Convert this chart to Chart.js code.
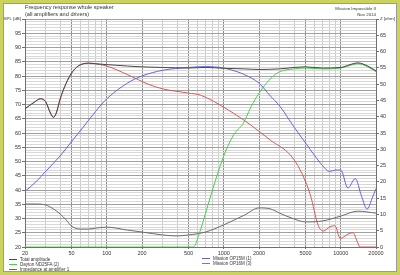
<!DOCTYPE html>
<html>
<head>
<meta charset="utf-8">
<script src="https://cdn.jsdelivr.net/npm/chart.js@4.4.0/dist/chart.umd.min.js"></script>
<style>
body{margin:0;background:#fff;font-family:"Liberation Sans",Arial,sans-serif;color:#333;}
#wrap{position:relative;width:400px;height:275px;overflow:hidden;}
canvas{position:absolute;left:0;top:0;}
#frame{position:absolute;left:0;top:0;width:400px;height:275px;box-sizing:border-box;border:3px solid #cbd45a;pointer-events:none;}
#frame div{position:absolute;left:0;top:0;right:0;bottom:0;border:1px solid #9a9a9a;}
.t{position:absolute;white-space:nowrap;font-size:5.6px;line-height:7px;}
.s{position:absolute;white-space:nowrap;font-size:4.4px;line-height:5.5px;text-align:right;}
.lg{position:absolute;white-space:nowrap;font-size:4.5px;line-height:5px;}
.lg span{display:inline-block;width:8px;height:1px;vertical-align:middle;margin-right:3px;}
</style>
</head>
<body>
<div id="wrap">
<canvas id="myChart" width="400" height="275"></canvas>
<div class="t" style="left:25px;top:4px">Frequency response whole speaker</div>
<div class="t" style="left:25px;top:11px">(all amplifiers and drivers)</div>
<div class="s" style="right:24px;top:6px">Mission Impossible II<br>Nov 2014</div>
<div id="legend"></div>
<div id="frame"><div></div></div>
</div>
<script>
// series names and colours
var names = ['Total amplitude', 'Dayton ND25FA (2)', 'Impedance at amplifier 1', 'Mission OP15M (1)', 'Mission OP16M (3)'];
var colors = ['#474747', '#4fcc4f', '#6a6a6a', '#6464dc', '#d25a5a'];

var xTicks = [20,30,40,50,60,70,80,90,100,200,300,400,500,600,700,800,900,1000,2000,3000,4000,5000,6000,7000,8000,9000,10000,20000];
var xLabels = [20,50,100,200,500,1000,2000,5000,10000,20000];

var totalFreq = [20,24,27,30,33,35,37,40,45,50,55,60,70,80,100,150,200,300,500,700,1000,1500,2000,3000,4000,5000,7000,10000,12000,14000,17000,20000];
var totalSpl = [68.5,70.8,72,71,67,65.5,67,72,77.5,81,83,84,84.5,84.3,84,83.5,83.2,83,82.8,83,82.7,82.5,82.3,82.5,83,83.2,82.8,83,84,84.6,83.5,81.8];

var tweetFreq = [20,550,620,700,800,1000,1200,1300,1450,1700,2000,2500,3000,4000,5000,7000,10000,12000,14000,17000,20000];
var tweetSpl = [20,20,25,32,40,52,59,61,63,69,74,79,81.5,82.5,82.8,82.5,82.8,83.7,84.3,83.2,81.5];

var impFreq = [20,25,30,35,40,45,50,60,70,80,100,150,200,300,400,500,700,1000,1500,2000,2500,3000,4000,5000,7000,10000,14000,20000];
var impOhm = [13.2,13.2,12.9,11.7,10.1,8.3,6.4,5.5,5.5,5.8,6.1,5.2,4.6,3.7,3.4,3.7,4.6,6.8,9.8,12,11.7,10.4,8.6,7.7,8,9.5,11,10.4];

var woofFreq = [20,25,30,40,50,60,70,80,100,150,200,300,500,700,1000,1300,1500,2000,2500,3000,4000,5000,6000,7000,8000,9000,10000,11500,13300,15000,16800,18500,20000];
var woofSpl = [39.5,43,46.5,52,57,61,64.5,67.5,72,77.5,80,82,83,83.3,82.8,81.5,80.5,77.5,73,69.5,62,56.5,52,48.5,46.5,47,47,40.7,44,38,33.3,37,40.5];

var midFreq = [20,24,27,30,33,35,37,40,45,50,55,60,70,80,100,150,230,300,500,630,1100,1700,2500,3700,4500,5500,6400,7100,8000,8900,9900,11500,12700,13800,14600,20000];
var midSpl = [68.5,70.8,72,71,67,65.5,67,72,77.5,81,83,84,84.5,84.3,83.5,80.5,77,75.5,74,73.3,68,62.8,57.5,52.3,47,38.2,27.7,25.6,27,27.5,23,24.5,25,22,20,20];

function pts(fs, vs){
    return fs.map(function(f, i){ return {x: f, y: vs[i]}; });
}
function ds(i, data, axis){
    return {
        label: names[i],
        data: data,
        yAxisID: axis,
        borderColor: colors[i],
        borderWidth: 1,
        pointRadius: 0,
        cubicInterpolationMode: 'monotone'
    };
}

// legend, two columns like the original
var legendPos = [[9,257],[9,262],[9,267],[202,256],[202,261]];
var lg = document.getElementById('legend');
names.forEach(function(n, i){
    var d = document.createElement('div');
    d.className = 'lg';
    d.style.left = legendPos[i][0] + 'px';
    d.style.top = legendPos[i][1] + 'px';
    d.innerHTML = '<span style="background:' + colors[i] + '"></span>' + n;
    lg.appendChild(d);
});

var fam = '"Liberation Sans", Arial, sans-serif';
var tickFont = {family: fam, size: 5.5};
// the unit labels at the top of the y axes are smaller
function unitFont(top){
    return function(c){ return {family: fam, size: c.tick && c.tick.value === top ? 4.4 : 5.5}; };
}
var ctx = document.getElementById('myChart').getContext('2d');
var chart = new Chart(ctx, {
    type: 'line',
    data: {
        datasets: [
            ds(0, pts(totalFreq, totalSpl), 'y'),
            ds(1, pts(tweetFreq, tweetSpl), 'y'),
            ds(2, pts(impFreq, impOhm), 'y2'),
            ds(3, pts(woofFreq, woofSpl), 'y'),
            ds(4, pts(midFreq, midSpl), 'y')
        ]
    },
    options: {
        responsive: false,
        animation: false,
        layout: {padding: {left: 0, top: 19, right: 4, bottom: 18}},
        plugins: {legend: {display: false}, tooltip: {enabled: false}},
        scales: {
            x: {
                type: 'logarithmic',
                min: 20, max: 20000,
                afterBuildTicks: function(s){ s.ticks = xTicks.map(function(v){ return {value: v}; }); },
                afterFit: function(s){ s.height = 10; },
                border: {color: '#707070'},
                grid: {
                    color: function(c){ return xLabels.indexOf(c.tick.value) >= 0 ? '#8c8c8c' : '#cccccc'; },
                    tickLength: 2,
                    tickColor: function(c){ return xLabels.indexOf(c.tick.value) >= 0 ? '#707070' : 'rgba(0,0,0,0)'; }
                },
                ticks: {
                    autoSkip: false, maxRotation: 0, padding: 1,
                    color: '#333', font: tickFont,
                    callback: function(v){ return xLabels.indexOf(v) >= 0 ? String(v) : ''; }
                }
            },
            y: {
                position: 'left',
                min: 20, max: 100,
                afterFit: function(s){ s.width = 25; },
                border: {color: '#707070'},
                grid: {
                    color: function(c){ return c.tick.value % 5 === 0 ? '#a0a0a0' : '#d8d8d8'; },
                    tickLength: 3,
                    tickColor: function(c){ return c.tick.value % 5 === 0 ? '#707070' : 'rgba(0,0,0,0)'; }
                },
                ticks: {
                    stepSize: 1, autoSkip: false, padding: 1,
                    color: '#333', font: unitFont(100),
                    callback: function(v){
                        if (v === 100) return 'SPL [dB]';
                        return v % 5 === 0 ? String(v) : '';
                    }
                }
            },
            y2: {
                position: 'right',
                min: 0, max: 70,
                afterFit: function(s){ s.width = 20; },
                border: {color: '#707070'},
                grid: {drawOnChartArea: false, tickLength: 3, tickColor: '#707070'},
                ticks: {
                    stepSize: 5, padding: 1,
                    color: '#333', font: unitFont(70),
                    callback: function(v){ return v === 70 ? 'Z [ohm]' : String(v); }
                }
            }
        }
    }
});
</script>
</body>
</html>
